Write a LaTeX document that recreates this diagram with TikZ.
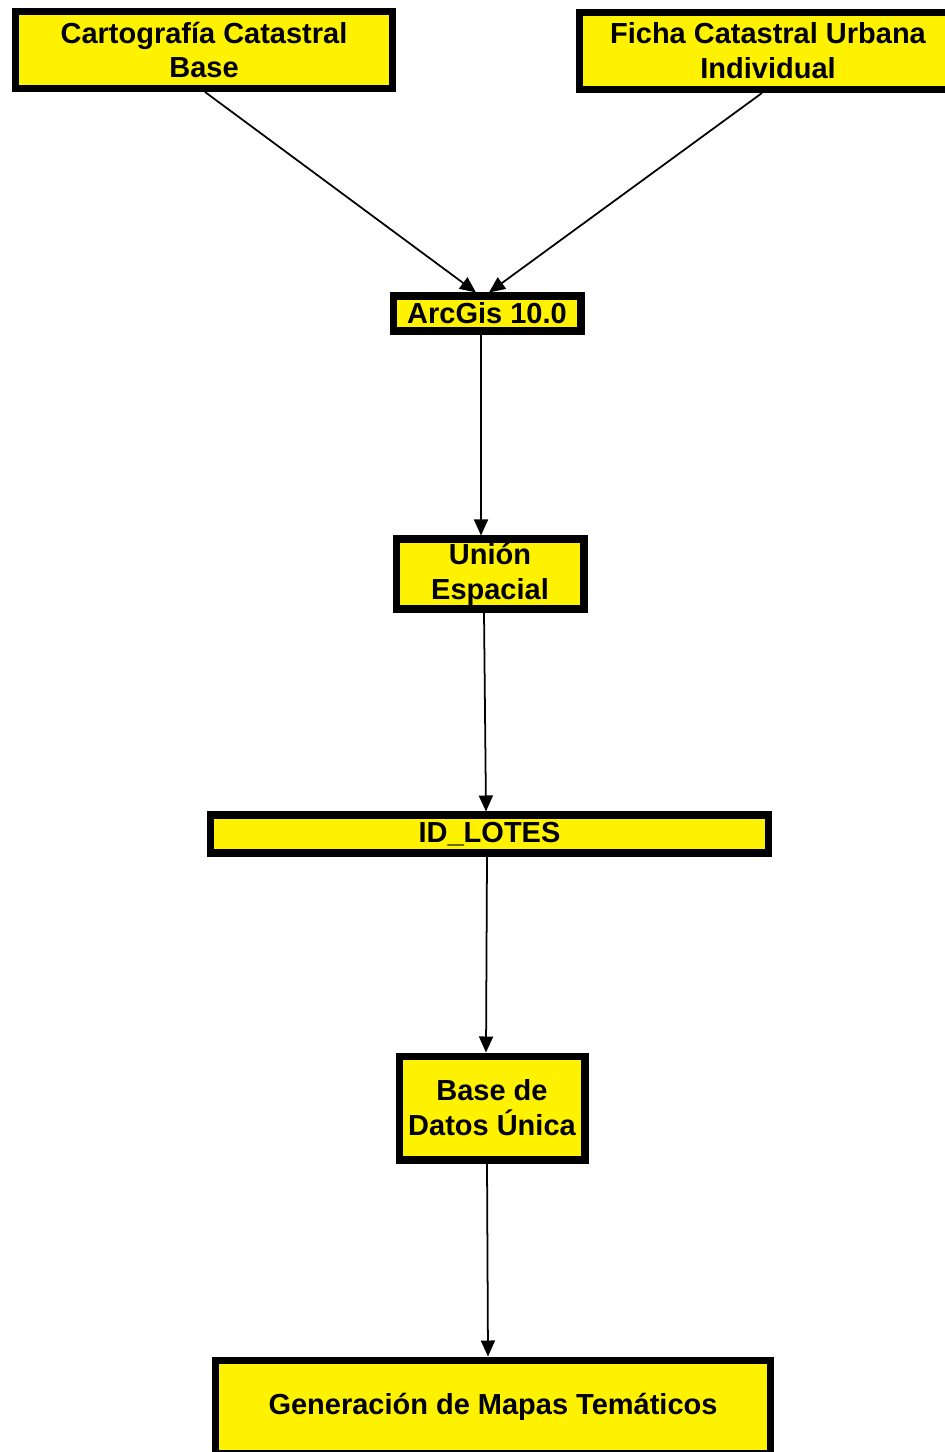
\documentclass[tikz,border=0pt]{standalone}
\usepackage{fontspec}
\setmainfont{Liberation Sans}
\usetikzlibrary{arrows.meta}
\begin{document}
\begin{tikzpicture}[x=0.02cm, y=-0.02cm,
    font=\fontsize{16.5}{19.8}\selectfont\bfseries,
    caja/.style={draw=black, line width=4pt, fill=yellow, align=center, inner sep=0pt},
    flecha/.style={-{Triangle[length=0.32cm, width=0.28cm]}, line width=1pt}]
  \useasboundingbox (0,0) rectangle (944,1452);
  % fuentes de datos
  \node[caja, minimum width=7.56cm, minimum height=1.54cm] (carto) at (204,50)
    {Cartograf\'ia Catastral\\Base};
  \node[caja, minimum width=7.56cm, minimum height=1.54cm] (ficha) at (768,51)
    {Ficha Catastral Urbana\\Individual};
  % proceso
  \node[caja, minimum width=3.76cm, minimum height=0.70cm] (arcgis) at (487,313.5)
    {ArcGis 10.0};
  \node[caja, minimum width=3.76cm, minimum height=1.40cm] (union) at (490,574)
    {Uni\'on\\Espacial};
  \node[caja, minimum width=11.18cm, minimum height=0.76cm] (idlotes) at (489.5,834)
    {ID\_LOTES};
  \node[caja, minimum width=3.72cm, minimum height=2.08cm] (basedatos) at (492,1108)
    {Base de\\Datos \'Unica};
  \node[caja, minimum width=11.12cm, minimum height=1.88cm] (mapas) at (493,1407)
    {Generaci\'on de Mapas Tem\'aticos};
  % conexiones
  \draw[flecha] ([xshift=0.02cm]carto.south) -- ([xshift=-0.22cm]arcgis.north);
  \draw[flecha] ([xshift=-0.12cm]ficha.south) -- ([xshift=0.04cm]arcgis.north);
  \draw[flecha] ([xshift=-0.12cm]arcgis.south) -- ([xshift=-0.18cm]union.north);
  \draw[flecha] ([xshift=-0.12cm]union.south) -- ([xshift=-0.07cm]idlotes.north);
  \draw[flecha] ([xshift=-0.05cm]idlotes.south) -- ([xshift=-0.12cm]basedatos.north);
  \draw[flecha] ([xshift=-0.10cm]basedatos.south) -- ([xshift=-0.10cm]mapas.north);
\end{tikzpicture}
\end{document}
